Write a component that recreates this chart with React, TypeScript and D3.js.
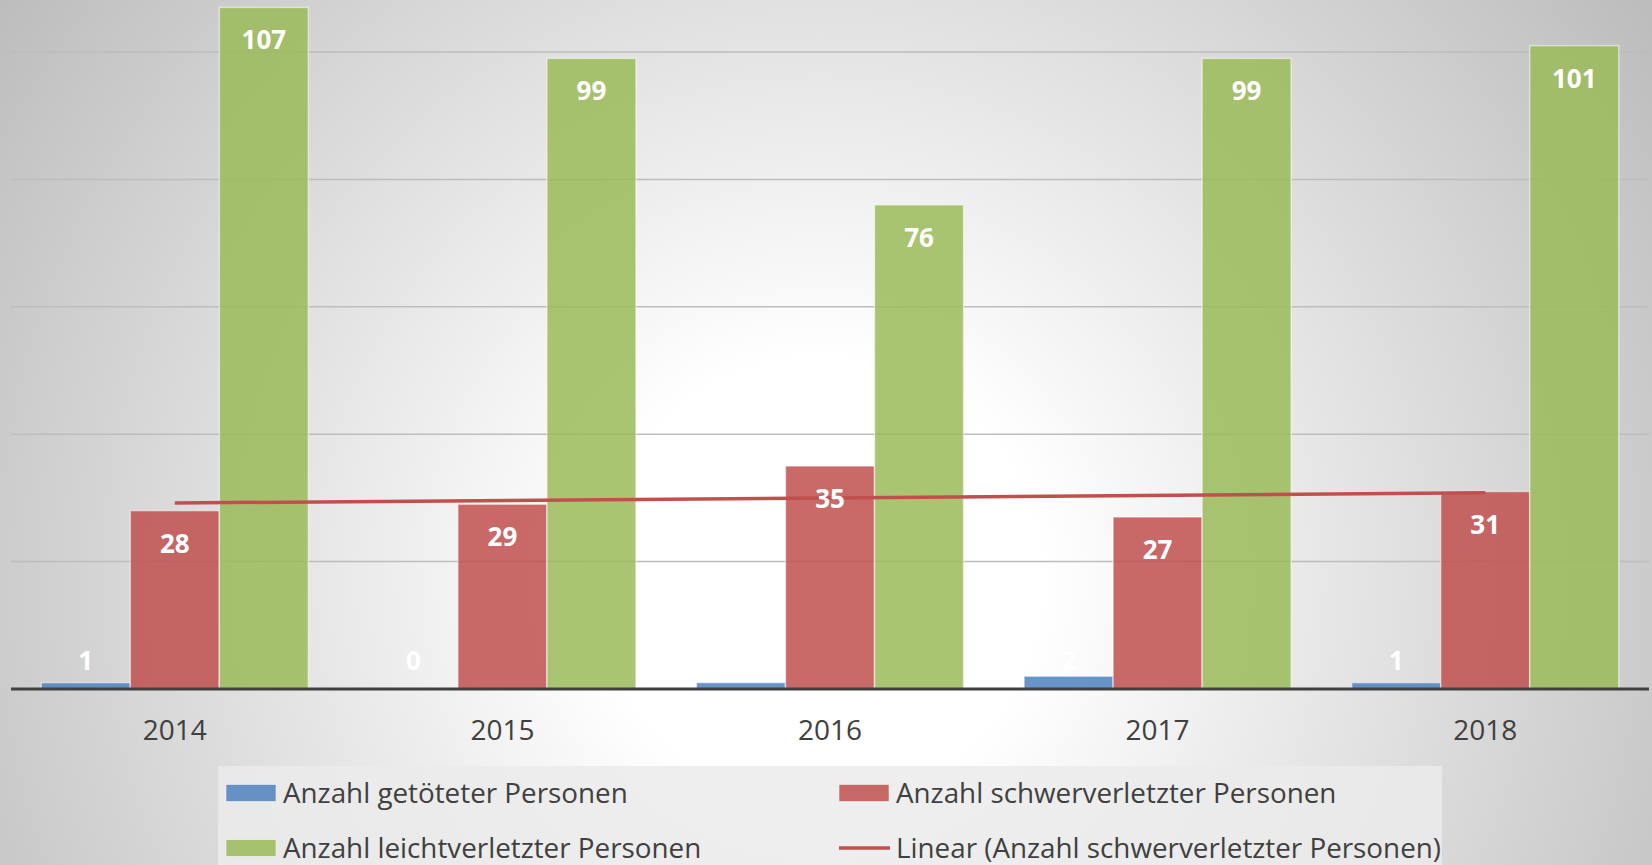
import React from "react";
import * as d3 from "d3";

const years = ["2014", "2015", "2016", "2017", "2018"];
const seriesNames = [
  "Anzahl getöteter Personen",
  "Anzahl schwerverletzter Personen",
  "Anzahl leichtverletzter Personen",
];
const getoetet = [1, 0, 1, 2, 1];
const schwer = [28, 29, 35, 27, 31];
const leicht = [107, 99, 76, 99, 101];
const gridTicks = [20, 40, 60, 80, 100];
const trendName = "Linear (Anzahl schwerverletzter Personen)";

const W = 1652;
const H = 865;
const colors = ["#4F81BD", "#C0504D", "#9BBB59"];
const FONT = "'Open Sans', 'DejaVu Sans', sans-serif";

export default function App() {
  const left = 11;
  const right = 1649;
  const y0 = 689;
  const yTop = 52;

  const x = d3.scaleBand<string>().domain(years).range([left, right]).paddingInner(0).paddingOuter(0);
  const y = d3.scaleLinear().domain([0, 100]).range([y0, yTop]);

  const series = [getoetet, schwer, leicht];
  const catW = x.bandwidth();
  const barW = catW / (3 + 0.68);
  const gap = barW * 0.68;
  const barX = (i: number, s: number) => (x(years[i]) as number) + gap / 2 + s * barW;

  // linear trend for schwer
  const n = schwer.length;
  const xs = schwer.map((_, i) => i + 1);
  const mx = d3.mean(xs) as number;
  const my = d3.mean(schwer) as number;
  const slope =
    (d3.sum(xs.map((xi, i) => (xi - mx) * (schwer[i] - my))) as number) /
    (d3.sum(xs.map((xi) => (xi - mx) * (xi - mx))) as number);
  const icpt = my - slope * mx;
  const trendPts: [number, number][] = xs.map((xi, i) => [barX(i, 1) + barW / 2, y(icpt + slope * xi)]);
  const line = d3.line();
  const trendPath = line([trendPts[0], trendPts[n - 1]]) as string;

  const legendItems = [
    { label: seriesNames[0], color: colors[0], kind: "rect", lx: 226, ly: 793 },
    { label: seriesNames[1], color: colors[1], kind: "rect", lx: 839, ly: 793 },
    { label: seriesNames[2], color: colors[2], kind: "rect", lx: 226, ly: 848 },
    { label: trendName, color: colors[1], kind: "line", lx: 839, ly: 848 },
  ];

  return (
    <svg
      width={W}
      height={H}
      style={{ position: "absolute", left: 0, top: 0 }}
      xmlns="http://www.w3.org/2000/svg"
    >
      <defs>
        <radialGradient id="bg" gradientUnits="userSpaceOnUse" cx={820} cy={580} r={1000}>
          <stop offset="0" stopColor="#ffffff" />
          <stop offset="0.22" stopColor="#ffffff" />
          <stop offset="1" stopColor="#bdbdbd" />
        </radialGradient>
      </defs>
      <rect x={0} y={0} width={W} height={H} fill="url(#bg)" />

      {gridTicks.map((t) => (
        <line key={t} x1={left} x2={right} y1={y(t)} y2={y(t)} stroke="#bdbdbd" strokeWidth={1.5} />
      ))}

      {series.map((vals, s) =>
        vals.map((v, i) => (
          <rect
            key={`b${s}-${i}`}
            x={barX(i, s)}
            y={y(v)}
            width={barW}
            height={y0 - y(v)}
            fill={colors[s]}
            fillOpacity={0.85}
            stroke="#ffffff"
            strokeOpacity={0.5}
            strokeWidth={1.5}
          />
        ))
      )}

      <line x1={left} x2={right} y1={y0} y2={y0} stroke="#404040" strokeWidth={3} />

      <path d={trendPath} stroke="#C0504D" strokeWidth={3.5} fill="none" />

      {series.map((vals, s) =>
        vals.map((v, i) => (
          <text
            key={`l${s}-${i}`}
            x={barX(i, s) + barW / 2}
            y={Math.min(y(v) + 42, y0 - 19)}
            textAnchor="middle"
            fill="#ffffff"
            fontFamily={FONT}
            fontWeight="bold"
            fontSize={26}
          >
            {v}
          </text>
        ))
      )}

      {years.map((yr) => (
        <text
          key={yr}
          x={(x(yr) as number) + catW / 2}
          y={740}
          textAnchor="middle"
          fill="#404040"
          fontFamily={FONT}
          fontSize={28}
        >
          {yr}
        </text>
      ))}

      <rect x={218} y={766} width={1224} height={110} fill="#ebebeb" fillOpacity={0.85} />
      {legendItems.map((it) => (
        <g key={it.label}>
          {it.kind === "rect" ? (
            <rect x={it.lx} y={it.ly - 8.5} width={50} height={17} fill={it.color} fillOpacity={0.85} stroke="#ffffff" strokeOpacity={0.5} />
          ) : (
            <line x1={it.lx} x2={it.lx + 51} y1={it.ly} y2={it.ly} stroke={it.color} strokeWidth={3.5} />
          )}
          <text x={it.lx + 57} y={it.ly + 10} fill="#404040" fontFamily={FONT} fontSize={27.8}>
            {it.label}
          </text>
        </g>
      ))}
    </svg>
  );
}
